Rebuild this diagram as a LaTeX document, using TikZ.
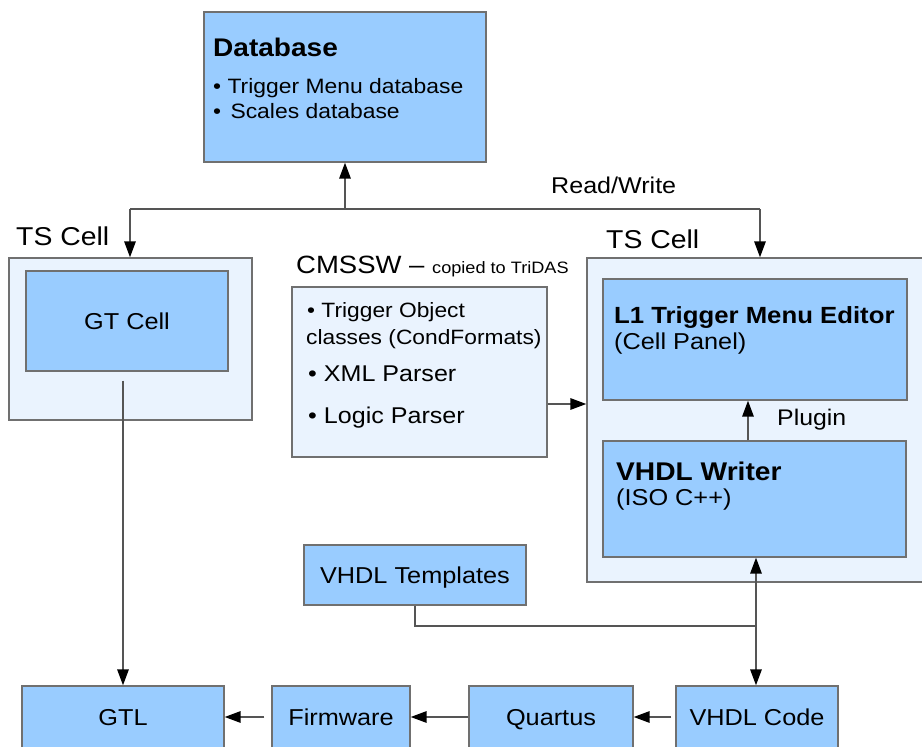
\documentclass[tikz,border=0pt]{standalone}
\usepackage{fontspec}
\setmainfont{Liberation Sans}[FakeStretch=1.1]
\usetikzlibrary{arrows.meta}
\definecolor{boxblue}{HTML}{99CCFF}
\definecolor{cellfill}{HTML}{EAF3FE}
\definecolor{edgegray}{HTML}{707070}
\definecolor{wiregray}{HTML}{555555}
\newcommand\fsz[1]{\fontsize{#1}{#1}\selectfont}
\tikzset{
  block/.style={draw=edgegray, fill=boxblue, line width=1.4pt, inner sep=0pt,
    font=\fsz{23}},
  rowblock/.style={block, text height=16.5pt, text depth=0pt},
  cellbox/.style={draw=edgegray, fill=cellfill, line width=1.4pt, inner sep=0pt},
  wire/.style={draw=wiregray, line width=1.5pt},
  arr/.style={wire, -{Triangle[length=16pt,width=11.5pt,color=black]}},
  txt/.style={inner sep=0pt, anchor=base west},
}
\begin{document}
\begin{tikzpicture}[x=1pt,y=-1pt]
\path[use as bounding box] (0,0) rectangle (922,747);
\clip (0,0) rectangle (922,747);

% database
\node[block, minimum width=282pt, minimum height=150pt] (db) at (345,87) {};
\node[txt, font=\fsz{25.5}\bfseries] (dbtitle) at (213,56) {Database};
\node[txt, font=\fsz{20.8}] (dbmenu) at (213,93) {• Trigger Menu database};
\node[txt, font=\fsz{20.8}] (dbscales) at (213,118) {•\hspace{3pt} Scales database};
\node[txt, font=\fsz{22.8}] (rw) at (551,193) {Read/Write};

% left trigger supervisor cell
\node[cellbox, minimum width=243pt, minimum height=162pt] (tsl) at (130.5,339) {};
\node[txt, font=\fsz{25.8}] (tsltitle) at (16,245) {TS Cell};
\node[block, minimum width=202pt, minimum height=100pt] (gt) at (127,321) {GT Cell};

% CMSSW packages
\node[txt, font=\fsz{25}] (cmstitle) at (296,273) {CMSSW – {\fsz{16.5}copied to TriDAS}};
\node[cellbox, minimum width=255pt, minimum height=170pt] (cms) at (419.5,372) {};
\node[txt, font=\fsz{20.7}] (cmsobj) at (307,317) {• Trigger Object};
\node[txt, font=\fsz{20.7}] (cmscls) at (306,344) {classes (CondFormats)};
\node[txt, font=\fsz{22.8}] (cmsxml) at (308,381) {• XML Parser};
\node[txt, font=\fsz{22.8}] (cmslogic) at (308,423) {• Logic Parser};

% right trigger supervisor cell
\node[cellbox, minimum width=343pt, minimum height=324pt] (tsr) at (758.5,420) {};
\node[txt, font=\fsz{25.8}] (tsrtitle) at (606,248) {TS Cell};
\node[block, minimum width=304pt, minimum height=121pt] (l1) at (755,339.5) {};
\node[txt, font=\fsz{23.4}\bfseries] (l1title) at (614,323) {L1 Trigger Menu Editor};
\node[txt, font=\fsz{23}] (l1sub) at (614,349) {(Cell Panel)};
\node[block, minimum width=303pt, minimum height=116pt] (vw) at (754.5,499) {};
\node[txt, font=\fsz{25.6}\bfseries] (vwtitle) at (616,480) {VHDL Writer};
\node[txt, font=\fsz{23}] (vwsub) at (616,505) {(ISO C++)};
\node[txt, font=\fsz{22.6}] (plugin) at (777,425) {Plugin};

% templates and the firmware chain
\node[rowblock, minimum width=222pt, minimum height=60pt] (vt) at (415,575) {VHDL Templates};
\node[rowblock, minimum width=202pt, minimum height=62pt] (gtl) at (123,717) {GTL};
\node[rowblock, minimum width=138pt, minimum height=62pt] (fw) at (341,717) {Firmware};
\node[rowblock, minimum width=164pt, minimum height=62pt] (qu) at (551,717) {Quartus};
\node[rowblock, minimum width=162pt, minimum height=62pt] (vc) at (757,717) {VHDL Code};

% read/write bus
\coordinate (busL) at (130,209);
\coordinate (busR) at (760,209);
\draw[wire] (busL) -- (busR);
\draw[arr] (db.south |- busL) -- (db.south);
\draw[arr] (busL) -- (busL |- tsl.north);
\draw[arr] (busR) -- (busR |- tsr.north);

% connections
\draw[arr] ([yshift=-32pt]cms.east) -- ([yshift=-32pt]cms.east -| tsr.west);
\draw[arr] ([xshift=-6.5pt]vw.north) -- ([xshift=-6.5pt]vw.north |- l1.south);
\draw[arr, shorten <=9pt] (gt.south -| gtl.north) -- (gtl.north);
\coordinate (jn) at (756,626);
\draw[wire] (vt.south) |- (jn);
\draw[arr] (jn) -- (jn |- vw.south);
\draw[arr] (jn) -- (jn |- vc.north);
\draw[arr, shorten <=4pt] (vc.west) -- (qu.east);
\draw[arr] (qu.west) -- (fw.east);
\draw[arr, shorten <=7pt] (fw.west) -- (gtl.east);
\end{tikzpicture}
\end{document}
